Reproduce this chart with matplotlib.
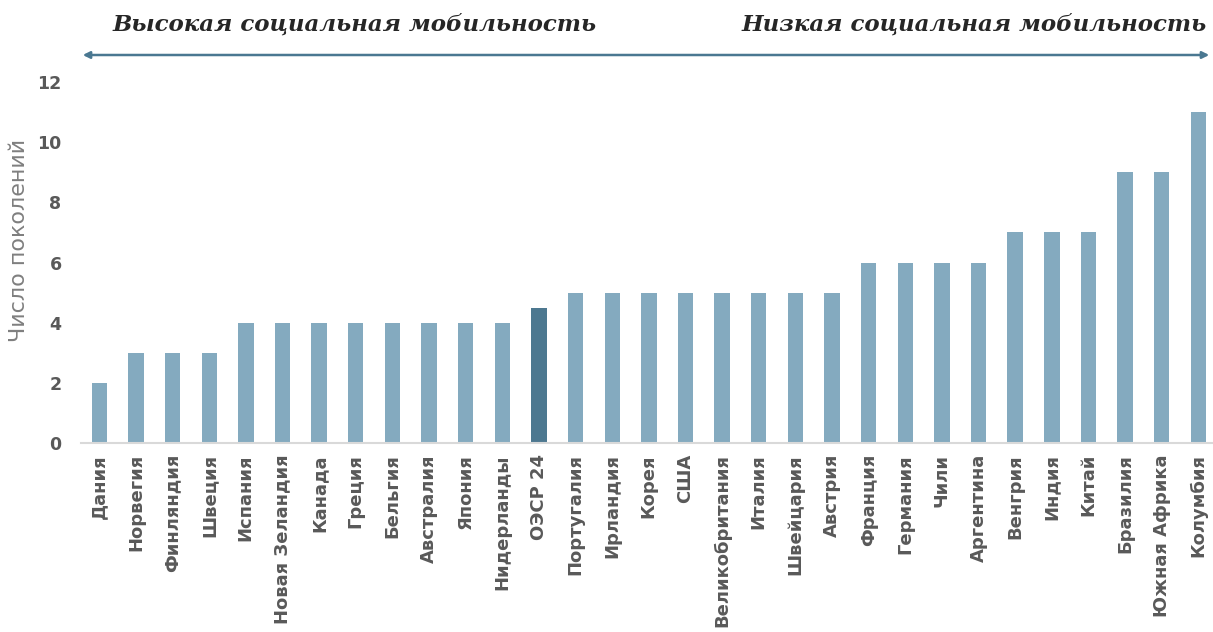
import matplotlib
matplotlib.use("Agg")
import matplotlib.pyplot as plt

countries = ["Дания", "Норвегия", "Финляндия", "Швеция", "Испания", "Новая Зеландия",
             "Канада", "Греция", "Бельгия", "Австралия", "Япония", "Нидерланды",
             "ОЭСР 24", "Португалия", "Ирландия", "Корея", "США", "Великобритания",
             "Италия", "Швейцария", "Австрия", "Франция", "Германия", "Чили",
             "Аргентина", "Венгрия", "Индия", "Китай", "Бразилия", "Южная Африка",
             "Колумбия"]
generations = [2, 3, 3, 3, 4, 4, 4, 4, 4, 4, 4, 4, 4.5, 5, 5, 5, 5, 5, 5, 5, 5,
               6, 6, 6, 6, 7, 7, 7, 9, 9, 11]
highlight = "ОЭСР 24"
yticks = [0, 2, 4, 6, 8, 10, 12]
left_title = "Высокая социальная мобильность"
right_title = "Низкая социальная мобильность"
ylabel = "Число поколений"

fig = plt.figure(figsize=(12.13, 6.32), dpi=100)
ax = fig.add_axes([81/1213, 1 - 443/632, 1 - 81/1213, (443 - 82)/632])

colors = ["#4d7890" if c == highlight else "#84aabf" for c in countries]
x = list(range(len(countries)))
ax.bar(x, generations, width=0.42, color=colors)
ax.set_xlim(-0.5, len(countries) - 0.6)
ax.set_ylim(0, 12)
ax.set_yticks(yticks)
ax.set_yticklabels([str(t) for t in yticks], fontsize=12.5, fontweight="bold",
                   color="#595959", family="DejaVu Sans")
ax.set_xticks(x)
ax.set_xticklabels(countries, rotation=90, fontsize=13, fontweight="bold",
                   color="#595959", family="DejaVu Sans")
ax.tick_params(axis="x", length=0, pad=8)
ax.tick_params(axis="y", length=0, pad=14)
for s in ["top", "right", "left"]:
    ax.spines[s].set_visible(False)
ax.spines["bottom"].set_color("#d9d9d9")
ax.spines["bottom"].set_linewidth(1.5)

fig.text(19/1213, 1 - 240/632, ylabel, rotation=90, ha="center", va="center",
         fontsize=16, color="#7f7f7f", family="DejaVu Sans")

# arrow
fig.patches.append(matplotlib.patches.FancyArrowPatch(
    (80/1213, 1 - 55/632), (1212/1213, 1 - 55/632), transform=fig.transFigure,
    arrowstyle="<|-|>", mutation_scale=10, color="#4a7891", lw=1.8))

fig.text(113/1213, 1 - 24/632, left_title, ha="left", va="center",
         fontsize=16.5, style="italic", fontweight="bold", color="#262626",
         family="DejaVu Serif")
fig.text(1207/1213, 1 - 24/632, right_title, ha="right", va="center",
         fontsize=16.5, style="italic", fontweight="bold", color="#262626",
         family="DejaVu Serif")

fig.savefig("out.png", dpi=100)
